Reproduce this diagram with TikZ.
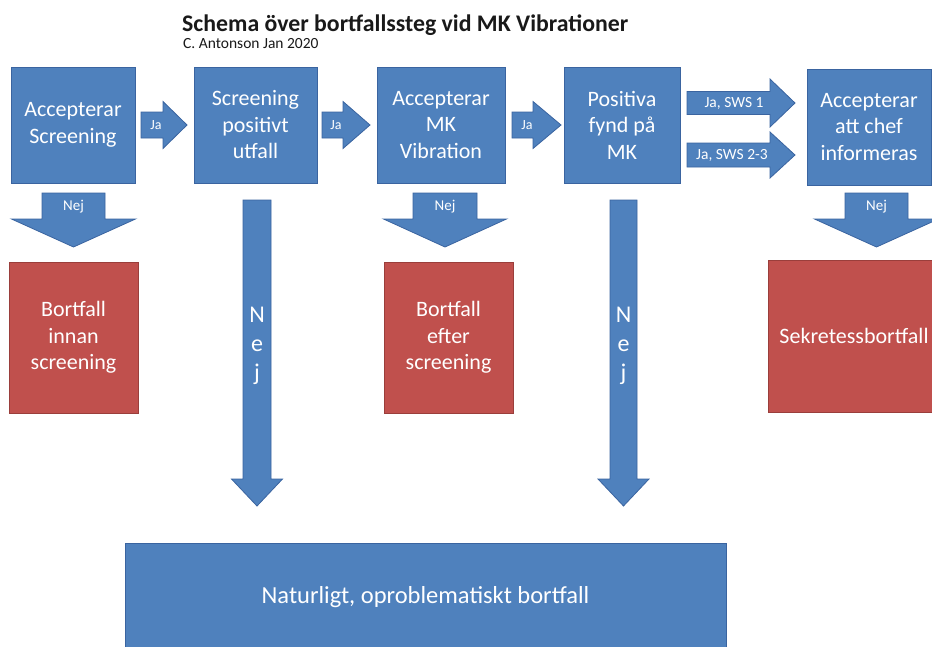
\documentclass[tikz,border=0pt]{standalone}
\usepackage{fontspec}
\setmainfont{Carlito}
\definecolor{bfill}{HTML}{4F81BD}
\definecolor{bdraw}{HTML}{3A64A0}
\definecolor{rfill}{HTML}{C0504D}
\definecolor{rdraw}{HTML}{9A3E3B}
\tikzset{
  bluebox/.style={fill=bfill, draw=bdraw, line width=1pt, text=white, align=center,
    inner sep=0pt, font=\fontsize{22}{26.5}\selectfont},
  redbox/.style={fill=rfill, draw=rdraw, line width=1pt, text=white, align=center,
    inner sep=0pt, font=\fontsize{22}{26.5}\selectfont},
  blockarrow/.style={fill=bfill, draw=bdraw, line width=0.8pt},
  jalabel/.style={text=white, inner sep=0pt, font=\fontsize{14}{16}\selectfont},
  swslabel/.style={text=white, inner sep=0pt, font=\fontsize{15.5}{17}\selectfont},
  nejlabel/.style={text=white, inner sep=0pt, font=\fontsize{15}{17}\selectfont},
  vertlabel/.style={text=white, inner sep=0pt, align=center, font=\fontsize{24}{29}\selectfont},
}
% helpers: right-pointing and down-pointing block arrows
\newcommand{\blkright}[6]{% x1, x2, xh, yc, shaft half, head half
  \path[blockarrow] (#1,#4-#5) -- (#3,#4-#5) -- (#3,#4-#6) -- (#2,#4) -- (#3,#4+#6) -- (#3,#4+#5) -- (#1,#4+#5) -- cycle;}
\newcommand{\blkdown}[6]{% y1, y2, yh, xc, shaft half, head half
  \path[blockarrow] (#4-#5,#1) -- (#4+#5,#1) -- (#4+#5,#3) -- (#4+#6,#3) -- (#4,#2) -- (#4-#6,#3) -- (#4-#5,#3) -- cycle;}
\begin{document}
\begin{tikzpicture}[x=1pt,y=-1pt]
\clip (0,0) rectangle (932,646);
\fill[white] (0,0) rectangle (932,646);

% title
\node[anchor=base west, inner sep=0pt, text=black!90, font=\bfseries\fontsize{23.8}{28}\selectfont] (title) at (182,31) {Schema över bortfallssteg vid MK Vibrationer};
\node[anchor=base west, inner sep=0pt, text=black!90, font=\fontsize{15.5}{17}\selectfont] (sub) at (183,48) {C. Antonson Jan 2020};

% top row boxes
\node[bluebox, minimum width=124, minimum height=116] (b1) at (73,125) {Accepterar\\Screening};
\node[bluebox, minimum width=123, minimum height=116] (b2) at (255.5,125) {Screening\\positivt\\utfall};
\node[bluebox, minimum width=128, minimum height=116] (b3) at (441,125) {Accepterar\\MK\\Vibration};
\node[bluebox, minimum width=116, minimum height=116] (b4) at (622,125) {Positiva\\fynd på\\MK};
\node[bluebox, minimum width=124, minimum height=116] (b5) at (869,127) {Accepterar\\att chef\\informeras};

% red boxes
\node[redbox, minimum width=129, minimum height=151] (r1) at (73.5,337.5) {Bortfall\\innan\\screening};
\node[redbox, minimum width=129, minimum height=151] (r2) at (448.5,337.5) {Bortfall\\efter\\screening};
\node[redbox, minimum width=172, minimum height=152] (r3) at (854,336) {Sekretessbortfall};

% bottom box
\node[bluebox, minimum width=601, minimum height=108, font=\fontsize{24.5}{28}\selectfont] (nat) at (425.5,597) {Naturligt, oproblematiskt bortfall};

% Ja arrows
\blkright{141}{187}{163}{125}{13}{23.5}
\blkright{322}{370}{343}{125}{13}{23.5}
\blkright{512}{561}{533}{125}{13}{23.5}
\node[jalabel] (ja1) at (156,125) {Ja};
\node[jalabel] (ja2) at (336,125) {Ja};
\node[jalabel] (ja3) at (527,125) {Ja};

% SWS arrows
\blkright{687}{795}{770}{103}{11.5}{24}
\blkright{687}{795}{770}{155}{12}{23}
\node[swslabel] (sws1) at (734,103) {Ja, SWS 1};
\node[swslabel] (sws2) at (732,155.5) {Ja, SWS 2-3};

% Nej arrows
\blkdown{193}{247}{219}{73.5}{31.5}{62}
\blkdown{193}{247}{219}{445}{32}{61.5}
\blkdown{193}{247}{219}{876.5}{31.5}{62}
\node[nejlabel] (nej1) at (73.5,207) {Nej};
\node[nejlabel] (nej2) at (445,207) {Nej};
\node[nejlabel] (nej3) at (876.5,207) {Nej};

% long Nej arrows
\blkdown{200}{506}{479}{257}{14}{25.5}
\blkdown{200}{506}{479}{623.5}{13.5}{25.5}
\node[vertlabel] (nejv1) at (257,346) {N\\e\\j};
\node[vertlabel] (nejv2) at (623.5,346) {N\\e\\j};
\end{tikzpicture}
\end{document}
